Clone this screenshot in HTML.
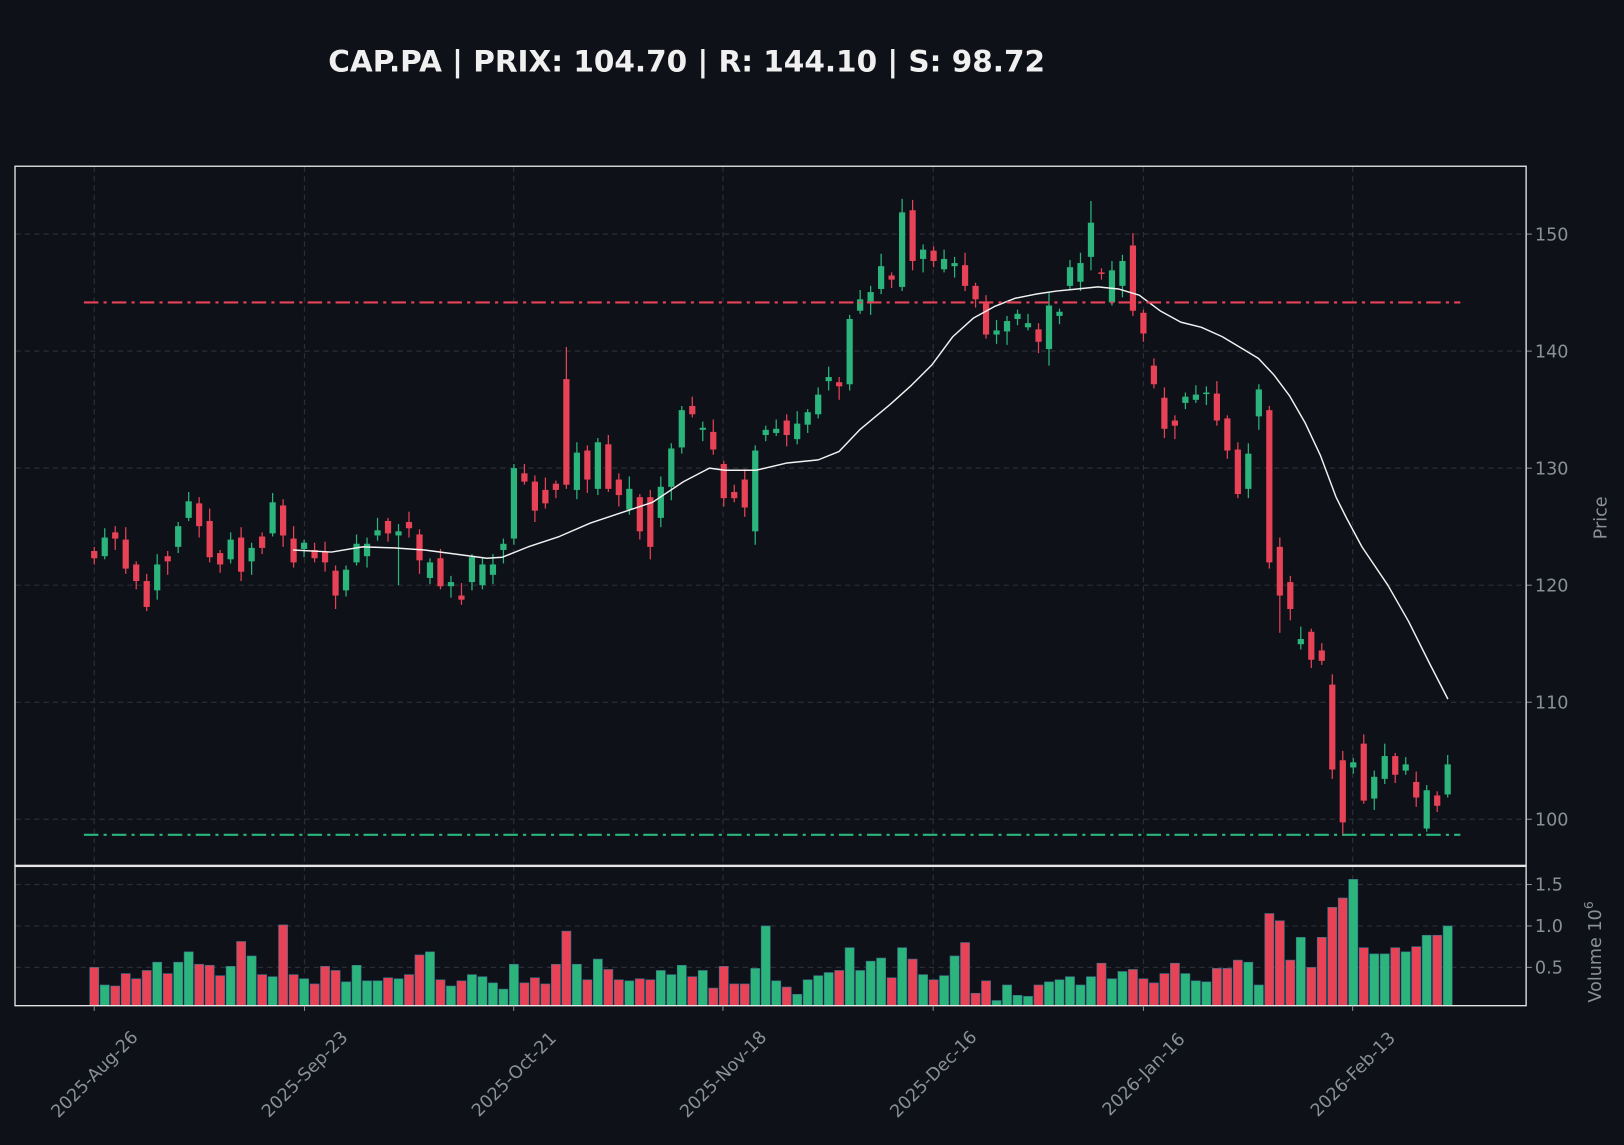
<!DOCTYPE html>
<html><head><meta charset="utf-8"><style>
html,body{margin:0;padding:0;background:#0e1117;}
svg{display:block;font-family:"DejaVu Sans","Liberation Sans",sans-serif;}
</style></head><body>
<svg id="s" width="1624" height="1145" viewBox="0 0 1568 1105.5" xmlns="http://www.w3.org/2000/svg">
<rect width="1568" height="1106" fill="#0e1117"/>
<text x="663" y="69" fill="#f0f0f0" font-size="28.5" font-weight="bold" text-anchor="middle">CAP.PA | PRIX: 104.70 | R: 144.10 | S: 98.72</text>
<g id="grid"></g>
<g id="cand"></g>
<g id="vol"></g>
<polyline id="ma" fill="none" stroke="#f2f2f2" stroke-width="1.4" stroke-linejoin="round"/>
<line x1="81" x2="1410" y1="292" y2="292" stroke="#e84257" stroke-width="2" stroke-dasharray="14,5,3,5"/>
<line x1="81" x2="1410" y1="806" y2="806" stroke="#2bb57d" stroke-width="2" stroke-dasharray="14,5,3,5"/>
<rect x="14.5" y="160.5" width="1459" height="675" fill="none" stroke="#e6e6e6" stroke-width="1.3"/>
<rect x="14.5" y="836.5" width="1459" height="134.5" fill="none" stroke="#e6e6e6" stroke-width="1.3"/>
<g id="ax" fill="#8a8f98" font-size="17"></g>
<text transform="translate(1551,500) rotate(-90)" fill="#8a8f98" font-size="17" text-anchor="middle">Price</text>
<text transform="translate(1546,968) rotate(-90)" fill="#8a8f98" font-size="17">Volume  10<tspan font-size="12" dy="-8">6</tspan></text>
</svg>
<script>
const NS="http://www.w3.org/2000/svg";
function el(p,t,a,txt){const e=document.createElementNS(NS,t);for(const k in a)e.setAttribute(k,a[k]);if(txt!==undefined)e.textContent=txt;document.getElementById(p).appendChild(e);return e;}
const G="#2bb57d",R="#e84257";
const C=[[532,539],[537,519],[514,520],[521,549],[545,561],[561,586],[570,545],[537,542],[528,508],[500,484],[486,508],[503,538],[534,545],[540,521],[519,552],[542,529],[518,529],[515,485],[488,517],[520,543],[530,524],[531,539],[533,543],[551,575],[570,550],[543,525],[537,525],[517,512],[503,515],[517,513],[504,510],[516,541],[558,543],[539,566],[566,562],[575,579],[562,538],[565,545],[555,545],[531,525],[520,452],[457,465],[465,493],[473,486],[467,473],[366,468],[473,437],[435,463],[472,427],[429,472],[463,478],[492,472],[480,513],[480,528],[500,470],[470,433],[432,396],[392,400],[415,413],[417,434],[448,481],[475,481],[463,490],[513,435],[420,415],[418,414],[406,420],[424,409],[410,398],[400,381],[368,364],[369,373],[371,308],[300,289],[293,282],[279,257],[266,270],[277,205],[203,252],[250,241],[242,252],[260,250],[257,254],[256,276],[276,289],[292,323],[323,319],[320,310],[308,303],[316,312],[318,330],[337,295],[305,301],[276,258],[272,254],[248,215],[263,264],[292,261],[276,252],[237,300],[302,322],[353,371],[384,414],[406,411],[389,383],[386,381],[380,379],[380,406],[404,435],[434,477],[472,438],[402,376],[396,543],[528,575],[562,588],[622,617],[610,637],[628,638],[661,743],[734,794],[741,736],[718,773],[771,750],[752,730],[730,748],[744,738],[755,770],[800,763],[768,778],[767,738]];
const V=[934,951,952,940,945,937,929,940,929,919,931,932,942,933,909,923,941,943,893,941,945,950,933,937,948,932,947,947,944,945,941,922,919,946,952,947,941,943,949,955,931,949,944,950,931,899,931,946,926,936,946,947,945,946,937,941,932,943,937,954,933,950,950,935,894,947,953,960,946,942,939,937,915,937,928,925,944,915,926,941,946,942,923,910,959,947,966,951,961,962,951,948,946,943,951,943,930,945,938,936,945,949,940,930,940,947,948,935,935,927,929,951,882,889,927,905,934,905,876,867,849,915,921,921,915,919,914,903,903,894];
const up={45:[335,0],53:[0,540],63:[0,0],77:[192,0],95:[194,0],112:[0,0],113:[0,611],119:[725,0],127:[0,803],91:[0,353],29:[0,565],46:[0,0]};
const gx=[91,294,496,698,901,1104,1306],labs=["2025-Aug-26","2025-Sep-23","2025-Oct-21","2025-Nov-18","2025-Dec-16","2026-Jan-16","2026-Feb-13"];
gx.forEach((x,i)=>{el("grid","line",{x1:x,x2:x,y1:161,y2:970,stroke:"#2a2e37","stroke-width":1.2,"stroke-dasharray":"5,4"});
el("ax","line",{x1:x,x2:x,y1:971,y2:976,stroke:"#8a8f98"});
el("ax","text",{transform:`translate(${x},${1037}) rotate(-45)`,"text-anchor":"middle",dy:"0.35em","font-size":17},labs[i]);});
[[226,"150"],[339,"140"],[452,"130"],[565,"120"],[678,"110"],[791,"100"]].forEach(([y,t])=>{
el("grid","line",{x1:15,x2:1473,y1:y,y2:y,stroke:"#2a2e37","stroke-width":1.2,"stroke-dasharray":"5,4"});
el("ax","line",{x1:1474,x2:1479,y1:y,y2:y,stroke:"#8a8f98"});el("ax","text",{x:1482,y:y+6},t);});
[[854,"1.5"],[894,"1.0"],[934,"0.5"]].forEach(([y,t])=>{
el("grid","line",{x1:15,x2:1473,y1:y,y2:y,stroke:"#2a2e37","stroke-width":1.2,"stroke-dasharray":"5,4"});
el("ax","line",{x1:1474,x2:1479,y1:y,y2:y,stroke:"#8a8f98"});el("ax","text",{x:1482,y:y+6},t);});
C.forEach(([o,c],i)=>{const x=91+i*10.13;const col=c<o?G:R;const top=Math.min(o,c),bot=Math.max(o,c);
const hh=[4,9,6,12,3,7,10,5][i%8],ll=[6,3,11,5,8,4,9,13][i%8];
let hi=top-hh,lo=bot+ll;if(up[i]){if(up[i][0])hi=up[i][0];if(up[i][1])lo=up[i][1];}
el("cand","line",{x1:x,x2:x,y1:hi,y2:lo,stroke:col,"stroke-width":1.2});
el("cand","rect",{x:x-3,y:top,width:6,height:Math.max(bot-top,1.5),fill:col});
el("vol","rect",{x:x-4.4,y:V[i],width:8.8,height:971-V[i],fill:col,stroke:"#3a6f8a","stroke-width":0.6});});
const M=[[283,531],[320,533],[350,528],[380,529],[410,531],[440,535],[470,539],[485,538],[510,528],[540,518],[570,505],[600,495],[630,485],[660,465],[685,452],[700,454],[730,454],[760,447],[790,444],[810,436],[830,415],[860,390],[880,372],[900,352],[920,325],[940,307],[960,296],[980,288],[1000,284],[1020,281],[1040,279],[1060,277],[1080,279],[1100,285],[1120,300],[1140,311],[1160,316],[1180,325],[1200,337],[1215,346],[1230,362],[1245,382],[1260,408],[1275,440],[1290,480],[1300,500],[1315,528],[1340,565],[1360,600],[1380,640],[1398,675]];
document.getElementById("ma").setAttribute("points",M.map(p=>p.join(",")).join(" "));
</script>
</body></html>
